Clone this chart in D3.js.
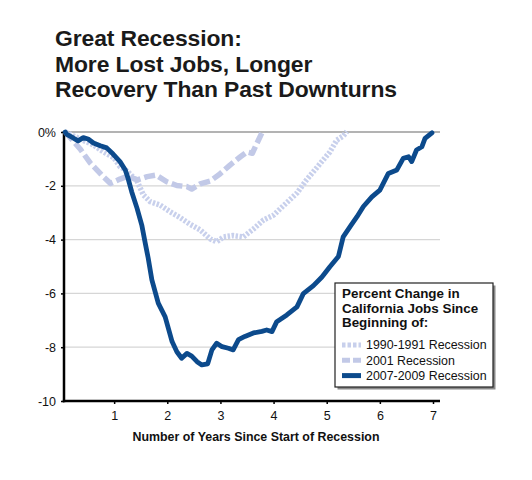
<!DOCTYPE html>
<html>
<head>
<meta charset="utf-8">
<script src="https://cdn.jsdelivr.net/npm/d3@7"></script>
<style>
  html, body { margin: 0; padding: 0; background: #fff; }
  svg { display: block; font-family: "Liberation Sans", Arial, Helvetica, sans-serif; }
</style>
</head>
<body>
<svg id="chart" width="532" height="480"></svg>
<script>
// ---- DATA ----
const titleLines = ["Great Recession:", "More Lost Jobs, Longer", "Recovery Than Past Downturns"];
const xTicks = [1, 2, 3, 4, 5, 6, 7];
const yTicks = [0, -2, -4, -6, -8, -10];
const xAxisTitle = "Number of Years Since Start of Recession";
const legendTitle = ["Percent Change in", "California Jobs Since", "Beginning of:"];
const seriesNames = ["1990-1991 Recession", "2001 Recession", "2007-2009 Recession"];

const years1990 = [0.08,0.36,0.61,0.79,0.99,1.11,1.24,1.43,1.55,1.68,1.86,2.05,2.24,2.42,2.62,2.81,2.93,3.06,3.24,3.43,3.62,3.81,4.00,4.18,4.44,4.62,4.87,5.06,5.19,5.31,5.38];
const values1990 = [0,-0.26,-0.48,-0.73,-0.95,-1.29,-1.45,-1.82,-2.34,-2.59,-2.71,-2.96,-3.18,-3.42,-3.64,-3.98,-4.08,-3.90,-3.85,-3.90,-3.61,-3.27,-3.09,-2.75,-2.27,-1.78,-1.19,-0.74,-0.30,-0.15,0.02];

const years2001 = [0.08,0.36,0.55,0.80,0.93,1.11,1.26,1.43,1.62,1.79,1.99,2.18,2.37,2.46,2.62,2.81,2.99,3.18,3.37,3.50,3.60,3.69,3.78];
const values2001 = [0,-0.63,-1.15,-1.67,-1.91,-1.75,-1.64,-1.78,-1.66,-1.60,-1.85,-1.99,-2.03,-2.12,-1.93,-1.82,-1.56,-1.23,-0.93,-0.74,-0.79,-0.41,-0.03];

const years2007 = [0.08,0.11,0.23,0.32,0.42,0.51,0.61,0.74,0.86,0.98,1.11,1.21,1.26,1.33,1.43,1.52,1.58,1.64,1.71,1.83,1.96,2.09,2.18,2.27,2.37,2.46,2.56,2.65,2.76,2.84,2.93,3.03,3.15,3.24,3.34,3.46,3.62,3.78,3.87,3.97,4.06,4.25,4.44,4.56,4.75,4.91,5.06,5.22,5.31,5.44,5.57,5.69,5.85,6.00,6.16,6.32,6.44,6.54,6.60,6.69,6.79,6.85,6.98];
const values2007 = [0,-0.09,-0.22,-0.33,-0.21,-0.26,-0.41,-0.51,-0.59,-0.82,-1.10,-1.41,-1.71,-2.22,-2.83,-3.46,-4.08,-4.68,-5.50,-6.36,-6.87,-7.79,-8.17,-8.41,-8.23,-8.33,-8.54,-8.66,-8.62,-8.10,-7.85,-7.98,-8.04,-8.10,-7.72,-7.60,-7.47,-7.41,-7.36,-7.42,-7.05,-6.80,-6.50,-6.01,-5.71,-5.39,-5.01,-4.63,-3.90,-3.52,-3.15,-2.77,-2.41,-2.16,-1.54,-1.41,-0.98,-0.92,-1.10,-0.67,-0.55,-0.24,-0.03];

// ---- LAYOUT ----
const svg = d3.select("#chart");
const x = d3.scaleLinear().domain([0, 7]).range([61, 433]);
const y = d3.scaleLinear().domain([0, -10]).range([132, 401]);
const xLeft = 64, xRight = 440;

// title
svg.append("g").selectAll("text").data(titleLines).join("text")
  .attr("x", 55).attr("y", (d, i) => 46 + i * 25.5)
  .attr("font-size", 22.9).attr("font-weight", "bold").attr("fill", "#1a1a1a")
  .attr("letter-spacing", -0.1)
  .text(d => d);

// gridlines
svg.append("g").selectAll("line").data(yTicks.filter(v => v !== 0 && v !== -10)).join("line")
  .attr("x1", xLeft).attr("x2", xRight)
  .attr("y1", d => y(d)).attr("y2", d => y(d))
  .attr("stroke", "#d6d6d6").attr("stroke-width", 1.2);
svg.append("line").attr("x1", xLeft).attr("x2", xRight)
  .attr("y1", y(0)).attr("y2", y(0))
  .attr("stroke", "#b3b3b3").attr("stroke-width", 2);

// axes
const yAxis = d3.axisLeft(y).tickValues(yTicks).tickSize(3).tickPadding(5)
  .tickFormat(d => d === 0 ? "0%" : d3.format("d")(d).replace("−", "-"));
const gy = svg.append("g").attr("transform", `translate(${xLeft},0)`).call(yAxis);
gy.select(".domain").remove();
gy.selectAll(".tick line").attr("stroke", "#000").attr("stroke-width", 1.5);
gy.selectAll(".tick text").attr("font-size", 12.5).attr("fill", "#111")
  .attr("font-family", "'Liberation Sans', Arial, sans-serif");

const xAxis = d3.axisBottom(x).tickValues(xTicks).tickSize(3).tickPadding(7).tickFormat(d3.format("d"));
const gx = svg.append("g").attr("transform", `translate(0,${y(-10)})`).call(xAxis);
gx.select(".domain").remove();
gx.selectAll(".tick line").attr("stroke", "#000").attr("stroke-width", 1.5);
gx.selectAll(".tick text").attr("font-size", 12.5).attr("fill", "#111")
  .attr("font-family", "'Liberation Sans', Arial, sans-serif");

svg.append("line").attr("x1", xLeft).attr("x2", xLeft).attr("y1", y(0) - 1).attr("y2", y(-10) + 1.2)
  .attr("stroke", "#000").attr("stroke-width", 2.5);
svg.append("line").attr("x1", xLeft - 1.2).attr("x2", xRight).attr("y1", y(-10)).attr("y2", y(-10))
  .attr("stroke", "#000").attr("stroke-width", 2.5);

// x axis title
svg.append("text").attr("x", 256).attr("y", 441).attr("text-anchor", "middle")
  .attr("font-size", 12.4).attr("font-weight", "bold").attr("fill", "#111").text(xAxisTitle);

// lines
const series = [
  { name: seriesNames[0], xs: years1990, vs: values1990, color: "#c8d0ec", width: 5.5, dash: "2.4,1.6" },
  { name: seriesNames[1], xs: years2001, vs: values2001, color: "#c2c9e7", width: 5.5, dash: "11,4" },
  { name: seriesNames[2], xs: years2007, vs: values2007, color: "#0c4a8c", width: 4.8, dash: null }
];
const line = d3.line().x(d => x(d[0])).y(d => y(d[1])).curve(d3.curveLinear);
series.forEach(s => {
  const pts = s.xs.map((t, i) => [t, s.vs[i]]);
  svg.append("path").datum(pts).attr("d", line)
    .attr("fill", "none").attr("stroke", s.color).attr("stroke-width", s.width)
    .attr("stroke-linejoin", "round").attr("stroke-linecap", s.dash ? "butt" : "round")
    .attr("stroke-dasharray", s.dash);
});

// legend
const lg = svg.append("g").attr("transform", "translate(335,283)");
const lw = 158, lh = 104;
lg.append("rect").attr("x", 2.5).attr("y", 2.5).attr("width", lw).attr("height", lh).attr("fill", "#8a8a8a");
lg.append("rect").attr("width", lw).attr("height", lh).attr("fill", "#fff").attr("stroke", "#222").attr("stroke-width", 1.2);
lg.selectAll("text.t").data(legendTitle).join("text").attr("class", "t")
  .attr("x", 7).attr("y", (d, i) => 15 + i * 14.7)
  .attr("font-size", 13.4).attr("font-weight", "bold").attr("fill", "#111").text(d => d);
series.forEach((s, i) => {
  const yy = 62 + i * 15.3;
  lg.append("line").attr("x1", 7).attr("x2", 26).attr("y1", yy).attr("y2", yy)
    .attr("stroke", s.color).attr("stroke-width", 5)
    .attr("stroke-dasharray", i === 0 ? "3.5,2" : (i === 1 ? "8,3" : null));
  lg.append("text").attr("x", 31).attr("y", yy + 4.4).attr("font-size", 12.4).attr("fill", "#111").text(s.name);
});
</script>
</body>
</html>
